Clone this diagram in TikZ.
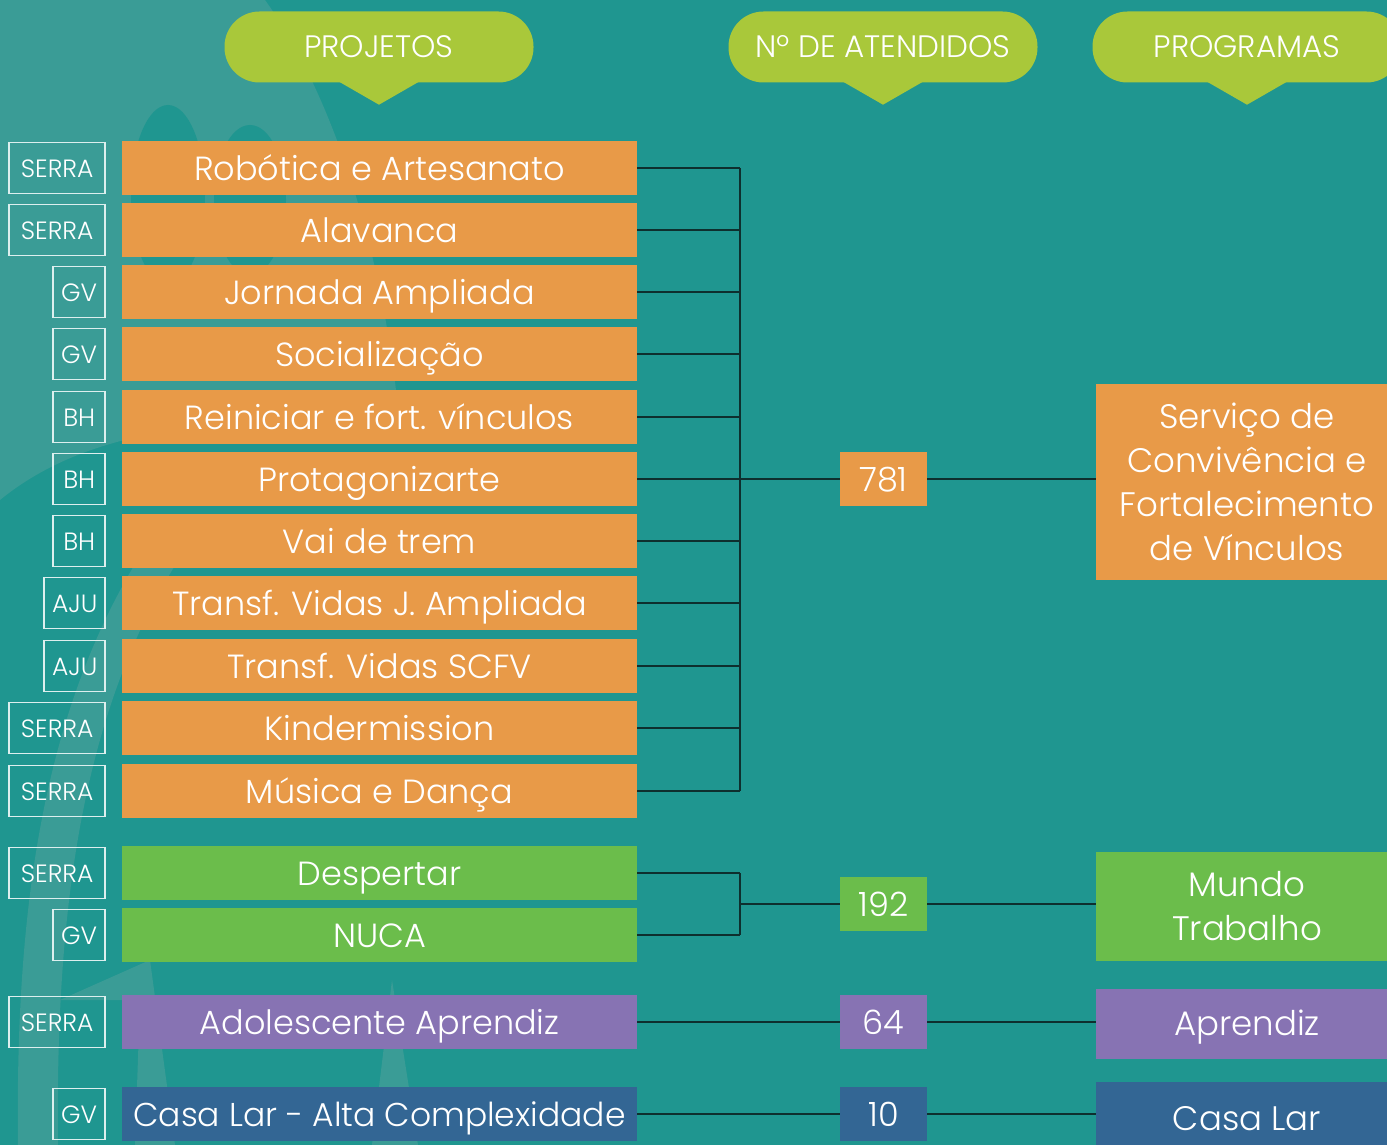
\documentclass[tikz,border=0pt]{standalone}
\usepackage{fontspec}
\setmainfont{Poppins}[UprightFont=* Light]

\definecolor{bgteal}{HTML}{1F9690}
\definecolor{bglight}{HTML}{3A9C96}
\definecolor{pillgreen}{HTML}{A9C83A}
\definecolor{orangebox}{HTML}{E89A48}
\definecolor{greenbox}{HTML}{6BBD4B}
\definecolor{purplebox}{HTML}{8773B3}
\definecolor{bluebox}{HTML}{336694}
\definecolor{linecol}{HTML}{0E2F2E}

\begin{document}
\begin{tikzpicture}[x=1pt,y=-1pt]

    \tikzset{rowbox/.style={fill=#1,text=white,minimum width=515pt,minimum height=54pt,inner sep=0pt,text height=27pt,text depth=3pt,font=\fontsize{33.5}{36}\selectfont}}
    \tikzset{tagbox/.style={draw=white!85!bgteal,line width=1.6pt,text=white,minimum width=#1,minimum height=51pt,inner sep=0pt,text height=19pt,text depth=1pt,anchor=east,font=\fontsize{25}{28}\selectfont}}
    \tikzset{numbox/.style={fill=#1,text=white,minimum width=87pt,minimum height=54pt,inner sep=0pt,text height=27pt,text depth=3pt,font=\fontsize{33.5}{36}\selectfont}}
    \tikzset{progbox/.style={fill=#1,text=white,align=center,minimum width=302pt,inner sep=0pt,font=\fontsize{34}{44}\selectfont}}
    \tikzset{headpill/.style={fill=pillgreen,text=white,rounded corners=35pt,minimum width=309pt,minimum height=71pt,inner sep=0pt,text height=23pt,text depth=1pt,font=\fontsize{31}{33}\selectfont}}
    \tikzset{link/.style={draw=linecol,line width=1.4pt}}

    \clip (0,0) rectangle (1387,1145);
    \fill[bgteal] (0,0) rectangle (1387,1145);

    % fundo decorativo
    \fill[bglight] (0,0) -- (265,0) .. controls (330,90) and (385,250) .. (400,430)
        .. controls (280,420) and (110,410) .. (0,500) -- cycle;
    \fill[bgteal] (168,195) ellipse (37 and 90);
    \fill[bgteal] (250,200) ellipse (36 and 75);
    \fill[bglight] (18,1145) .. controls (15,900) and (45,700) .. (150,540)
        -- (185,550) .. controls (85,700) and (55,900) .. (58,1145) -- cycle;
    \fill[bglight] (60,1000) -- (150,960) -- (175,1145) -- (135,1145) -- (140,1000) -- cycle;
    \fill[bglight] (392,980) -- (418,1145) -- (372,1145) -- cycle;

    % cabecalhos
    \node[headpill] (h1) at (379,47) {PROJETOS};
    \node[headpill] (h2) at (883,47) {Nº DE ATENDIDOS};
    \node[headpill] (h3) at (1247,47) {PROGRAMAS};
    \fill[pillgreen] ([xshift=-40pt,yshift=1pt]h1.south) -- ++(40,23) -- ++(40,-23) -- cycle;
    \fill[pillgreen] ([xshift=-40pt,yshift=1pt]h2.south) -- ++(40,23) -- ++(40,-23) -- cycle;
    \fill[pillgreen] ([xshift=-40pt,yshift=1pt]h3.south) -- ++(40,23) -- ++(40,-23) -- cycle;

    % projetos
    \node[rowbox=orangebox] (p1) at (379.5,168) {Robótica e Artesanato};
    \node[rowbox=orangebox] (p2) at (379.5,230) {Alavanca};
    \node[rowbox=orangebox] (p3) at (379.5,292) {Jornada Ampliada};
    \node[rowbox=orangebox] (p4) at (379.5,354) {Socialização};
    \node[rowbox=orangebox] (p5) at (379.5,417) {Reiniciar e fort. vínculos};
    \node[rowbox=orangebox] (p6) at (379.5,479) {Protagonizarte};
    \node[rowbox=orangebox] (p7) at (379.5,541) {Vai de trem};
    \node[rowbox=orangebox] (p8) at (379.5,603) {Transf. Vidas J. Ampliada};
    \node[rowbox=orangebox] (p9) at (379.5,666) {Transf. Vidas SCFV};
    \node[rowbox=orangebox] (p10) at (379.5,728) {Kindermission};
    \node[rowbox=orangebox] (p11) at (379.5,791) {Música e Dança};
    \node[rowbox=greenbox] (p12) at (379.5,873) {Despertar};
    \node[rowbox=greenbox] (p13) at (379.5,935) {NUCA};
    \node[rowbox=purplebox] (p14) at (379.5,1022) {Adolescente Aprendiz};
    \node[rowbox=bluebox,font=\fontsize{33}{36}\selectfont] (p15) at (379.5,1114) {Casa Lar - Alta Complexidade};

    % cidades
    \node[tagbox=96pt] (t1) at (106,168) {SERRA};
    \node[tagbox=96pt] (t2) at (106,230) {SERRA};
    \node[tagbox=52pt] (t3) at (106,292) {GV};
    \node[tagbox=52pt] (t4) at (106,354) {GV};
    \node[tagbox=52pt] (t5) at (106,417) {BH};
    \node[tagbox=52pt] (t6) at (106,479) {BH};
    \node[tagbox=52pt] (t7) at (106,541) {BH};
    \node[tagbox=61pt] (t8) at (106,603) {AJU};
    \node[tagbox=61pt] (t9) at (106,666) {AJU};
    \node[tagbox=96pt] (t10) at (106,728) {SERRA};
    \node[tagbox=96pt] (t11) at (106,791) {SERRA};
    \node[tagbox=96pt] (t12) at (106,873) {SERRA};
    \node[tagbox=52pt] (t13) at (106,935) {GV};
    \node[tagbox=96pt] (t14) at (106,1022) {SERRA};
    \node[tagbox=52pt] (t15) at (106,1114) {GV};

    % atendidos
    \node[numbox=orangebox] (n1) at (883.5,479) {781};
    \node[numbox=greenbox] (n2) at (883.5,904) {192};
    \node[numbox=purplebox] (n3) at (883.5,1022) {64};
    \node[numbox=bluebox] (n4) at (883.5,1114) {10};

    % programas
    \node[progbox=orangebox,minimum height=196pt] (g1) at (1247,482) {Serviço de\\Convivência e\\Fortalecimento\\de Vínculos};
    \node[progbox=greenbox,minimum height=109pt] (g2) at (1247,906.5) {Mundo\\Trabalho};
    \node[progbox=purplebox,minimum height=70pt,text height=27pt,text depth=3pt] (g3) at (1247,1023.5) {Aprendiz};
    \node[progbox=bluebox,minimum height=72pt,text height=27pt,text depth=3pt] (g4) at (1247,1118) {Casa Lar};

    % chaves
    \coordinate (b1) at (740,479);
    \coordinate (b2) at (740,904);

    \draw[link] (p1.east) -- (p1.east -| b1);
    \draw[link] (p2.east) -- (p2.east -| b1);
    \draw[link] (p3.east) -- (p3.east -| b1);
    \draw[link] (p4.east) -- (p4.east -| b1);
    \draw[link] (p5.east) -- (p5.east -| b1);
    \draw[link] (p6.east) -- (p6.east -| b1);
    \draw[link] (p7.east) -- (p7.east -| b1);
    \draw[link] (p8.east) -- (p8.east -| b1);
    \draw[link] (p9.east) -- (p9.east -| b1);
    \draw[link] (p10.east) -- (p10.east -| b1);
    \draw[link] (p11.east) -- (p11.east -| b1);
    \draw[link] (p1.east -| b1) -- (p11.east -| b1);
    \draw[link] (b1) -- (n1.west);
    \draw[link] (n1.east) -- (n1.east -| g1.west);

    \draw[link] (p12.east) -- (p12.east -| b2);
    \draw[link] (p13.east) -- (p13.east -| b2);
    \draw[link] (p12.east -| b2) -- (p13.east -| b2);
    \draw[link] (b2) -- (n2.west);
    \draw[link] (n2.east) -- (n2.east -| g2.west);

    \draw[link] (p14.east) -- (n3.west);
    \draw[link] (n3.east) -- (n3.east -| g3.west);
    \draw[link] (p15.east) -- (n4.west);
    \draw[link] (n4.east) -- (n4.east -| g4.west);

\end{tikzpicture}
\end{document}
